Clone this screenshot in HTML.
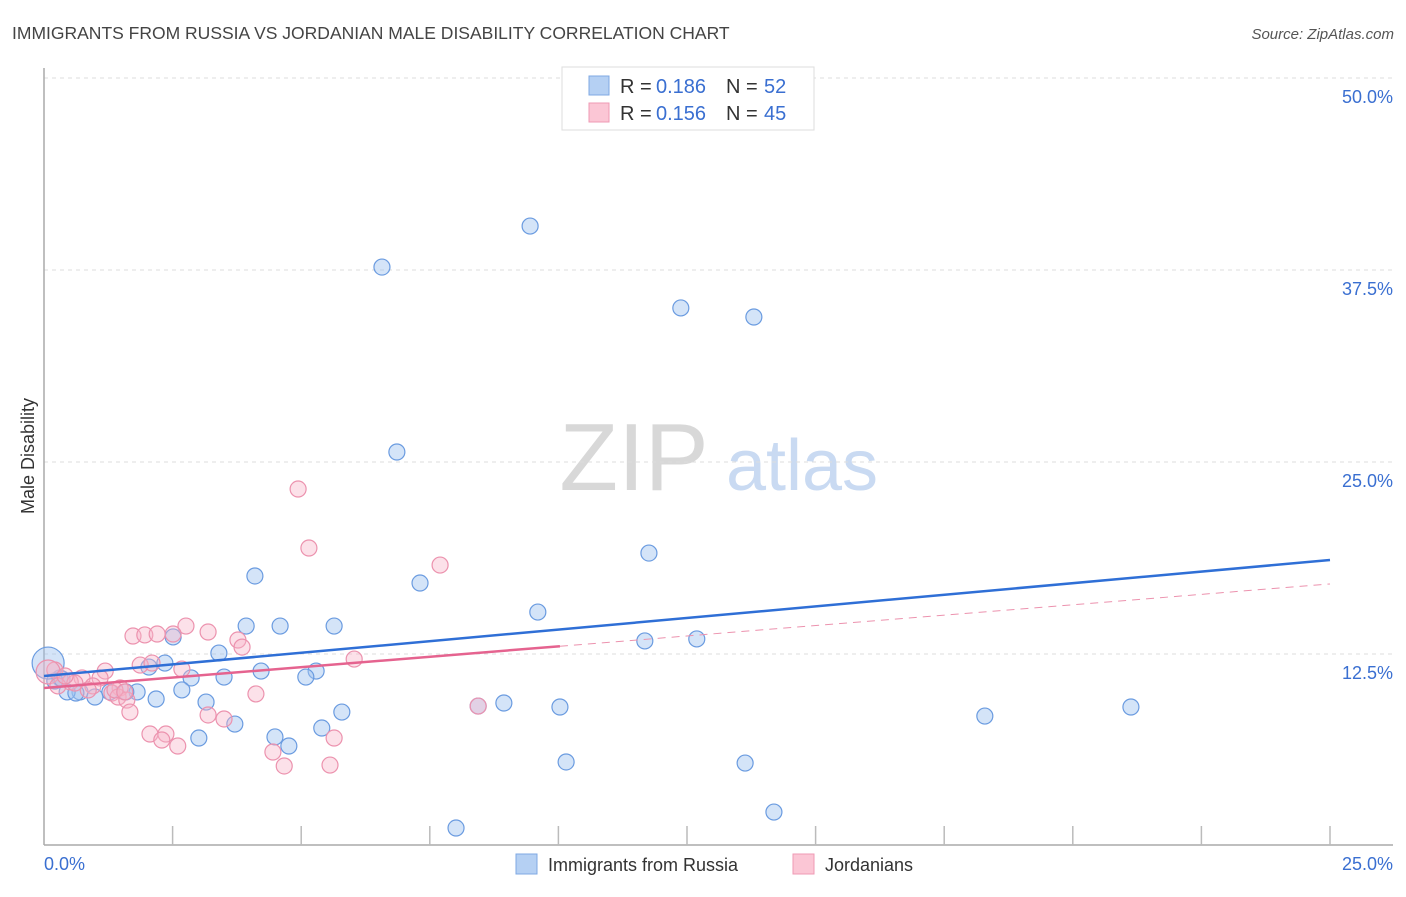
<!DOCTYPE html>
<html><head><meta charset="utf-8"><style>
body{margin:0;background:#fff;font-family:"Liberation Sans",sans-serif}
svg text{font-family:"Liberation Sans",sans-serif}
</style></head><body>
<svg id="chart" width="1406" height="892" xmlns="http://www.w3.org/2000/svg">
<text x="12" y="39" font-size="17.5" fill="#444">IMMIGRANTS FROM RUSSIA VS JORDANIAN MALE DISABILITY CORRELATION CHART</text>
<text x="1394" y="39" font-size="15" fill="#555" font-style="italic" text-anchor="end">Source: ZipAtlas.com</text>
<g>
<text x="634" y="490" font-size="96" fill="#d8d8d8" font-family="Liberation Serif,serif" text-anchor="middle">ZIP</text>
<text x="802" y="490" font-size="72" fill="#c9daf2" text-anchor="middle">atlas</text>
</g>
<g id="grid"></g>
<g id="axes"></g>
<g id="marks"></g>
<text transform="translate(34,456) rotate(-90)" font-size="18" fill="#333" text-anchor="middle">Male Disability</text>
<g>
<rect x="562" y="67" width="252" height="63" fill="#fff" stroke="#ddd"/>
<g>
<rect x="589" y="76" width="20" height="19" fill="#b5d0f3" stroke="#7fa8e3"/>
<text x="620" y="93" font-size="20" fill="#333">R =</text>
<text x="656" y="93" font-size="20" fill="#3a6fd1">0.186</text>
<text x="726" y="93" font-size="20" fill="#333">N =</text>
<text x="764" y="93" font-size="20" fill="#3a6fd1">52</text>
</g>
<g>
<rect x="589" y="103" width="20" height="19" fill="#fbc6d5" stroke="#ef9ab4"/>
<text x="620" y="120" font-size="20" fill="#333">R =</text>
<text x="656" y="120" font-size="20" fill="#3a6fd1">0.156</text>
<text x="726" y="120" font-size="20" fill="#333">N =</text>
<text x="764" y="120" font-size="20" fill="#3a6fd1">45</text>
</g>
</g>
<g>
<g><rect x="516" y="854" width="21" height="20" fill="#b5d0f3" stroke="#7fa8e3"/><text x="548" y="871" font-size="18" fill="#333">Immigrants from Russia</text></g>
<g><rect x="793" y="854" width="21" height="20" fill="#fbc6d5" stroke="#ef9ab4"/><text x="825" y="871" font-size="18" fill="#333">Jordanians</text></g>
</g>
</svg>
<script>
const blueX=[9.45,6.57,12.38,13.80,6.86,11.76,4.10,7.31,9.60,3.93,4.59,5.64,2.51,11.68,12.69,3.40,2.35,2.04,4.22,5.29,2.86,3.50,5.09,0.31,0.21,2.68,1.81,1.59,1.28,0.70,0.45,0.62,0.99,2.18,3.15,8.94,8.44,10.03,21.13,5.79,18.29,3.71,5.40,3.01,4.49,4.76,10.15,13.63,14.19,8.01,0.08,0.35];
const blueY=[40.36,37.69,35.03,34.44,25.65,19.07,17.58,17.12,15.23,14.32,14.32,14.32,13.61,13.35,13.48,12.56,11.91,11.65,11.39,11.39,10.94,11.00,11.00,10.94,10.74,10.16,10.03,10.03,10.03,10.03,10.03,9.96,9.70,9.57,9.37,9.31,9.11,9.05,9.05,8.72,8.46,7.94,7.68,7.03,7.10,6.51,5.47,5.40,2.21,1.17,11.91,10.87];
const blueSize=[1,1,1,1,1,1,1,1,1,1,1,1,1,1,1,1,1,1,1,1,1,1,1,1,1,1,1,1,1,1,1,1,1,1,1,1,1,1,1,1,1,1,1,1,1,1,1,1,1,1,2,1];
const pinkX=[4.94,5.15,7.70,2.76,3.19,1.73,1.96,2.20,2.51,3.77,3.85,6.03,1.87,2.10,2.68,1.19,0.21,0.74,1.09,0.51,0.95,1.48,1.32,1.44,4.12,1.61,1.67,8.44,3.19,3.50,2.06,2.37,2.29,2.60,5.64,4.45,4.67,5.56,0.08,0.27,0.86,0.60,1.38,0.41,1.57];
const pinkY=[23.24,19.40,18.29,14.32,13.93,13.67,13.74,13.80,13.80,13.41,12.95,12.17,11.78,11.91,11.52,11.39,11.46,10.94,10.94,10.68,10.42,10.29,9.96,9.70,9.90,9.50,8.72,9.11,8.53,8.27,7.29,7.29,6.90,6.51,7.03,6.12,5.21,5.27,11.33,10.42,10.16,10.61,10.16,11.07,10.03];
const pinkSize=[1,1,1,1,1,1,1,1,1,1,1,1,1,1,1,1,1,1,1,1,1,1,1,1,1,1,1,1,1,1,1,1,1,1,1,1,1,1,1.5,1,1,1,1,1,1];
const blueTrend=[11.07,18.62];
const pinkTrend=[10.29,17.06];
const pinkSolidEnd=10.03;
const yTicks=[12.5,25,37.5,50];
const yTickLabels=["12.5%","25.0%","37.5%","50.0%"];
const xTicks=[0,2.5,5,7.5,10,12.5,15,17.5,20,22.5,25];

const NS="http://www.w3.org/2000/svg";
const sx=v=>44+v/25*1286;
const sy=v=>846-v/12.5*192;
function mk(tag,attrs,parent){const e=document.createElementNS(NS,tag);for(const k in attrs)e.setAttribute(k,attrs[k]);parent.appendChild(e);return e;}
const grid=document.getElementById('grid'),axes=document.getElementById('axes'),marks=document.getElementById('marks');
yTicks.forEach((t,i)=>{
  const l=mk('line',{x1:44,x2:1393,y1:sy(t),y2:sy(t),stroke:'#ddd','stroke-dasharray':'4,4'},grid);
  
  
  const tx=mk('text',{x:1393,y:sy(t)+25,'font-size':18,fill:'#3a6fd1','text-anchor':'end'},axes);
  tx.textContent=yTickLabels[i];
  
  
});
let a=mk('line',{x1:44,x2:44,y1:68,y2:845,stroke:'#aaa','stroke-width':1.5},axes);


a=mk('line',{x1:44,x2:1393,y1:845,y2:845,stroke:'#aaa','stroke-width':1.5},axes);


xTicks.forEach(t=>{if(t===0)return;
  const l=mk('line',{x1:sx(t),x2:sx(t),y1:826,y2:845,stroke:'#bbb','stroke-width':1.5},axes);
  
  
});
let t0=mk('text',{x:44,y:870,'font-size':18,fill:'#3a6fd1'},axes);t0.textContent="0.0%";


let t1=mk('text',{x:1393,y:870,'font-size':18,fill:'#3a6fd1','text-anchor':'end'},axes);t1.textContent="25.0%";



blueX.forEach((x,i)=>{
  const c=mk('circle',{cx:sx(x),cy:sy(blueY[i]),r:8*blueSize[i],fill:'rgba(160,196,240,0.45)',stroke:'#6a9be0','stroke-width':1.2},marks);
  
  
});
pinkX.forEach((x,i)=>{
  const c=mk('circle',{cx:sx(x),cy:sy(pinkY[i]),r:8*pinkSize[i],fill:'rgba(248,180,200,0.4)',stroke:'#ec92ae','stroke-width':1.2},marks);
  
  
});
const pAt=x=>pinkTrend[0]+(pinkTrend[1]-pinkTrend[0])*x/25;
let tl=mk('line',{x1:sx(pinkSolidEnd),y1:sy(pAt(pinkSolidEnd)),x2:sx(25),y2:sy(pinkTrend[1]),stroke:'#ec92ae','stroke-width':1,'stroke-dasharray':'8,6'},marks);


tl=mk('line',{x1:sx(0),y1:sy(pinkTrend[0]),x2:sx(pinkSolidEnd),y2:sy(pAt(pinkSolidEnd)),stroke:'#e5638f','stroke-width':2.5},marks);


tl=mk('line',{x1:sx(0),y1:sy(blueTrend[0]),x2:sx(25),y2:sy(blueTrend[1]),stroke:'#2f6fd6','stroke-width':2.5},marks);


</script>
</body></html>
